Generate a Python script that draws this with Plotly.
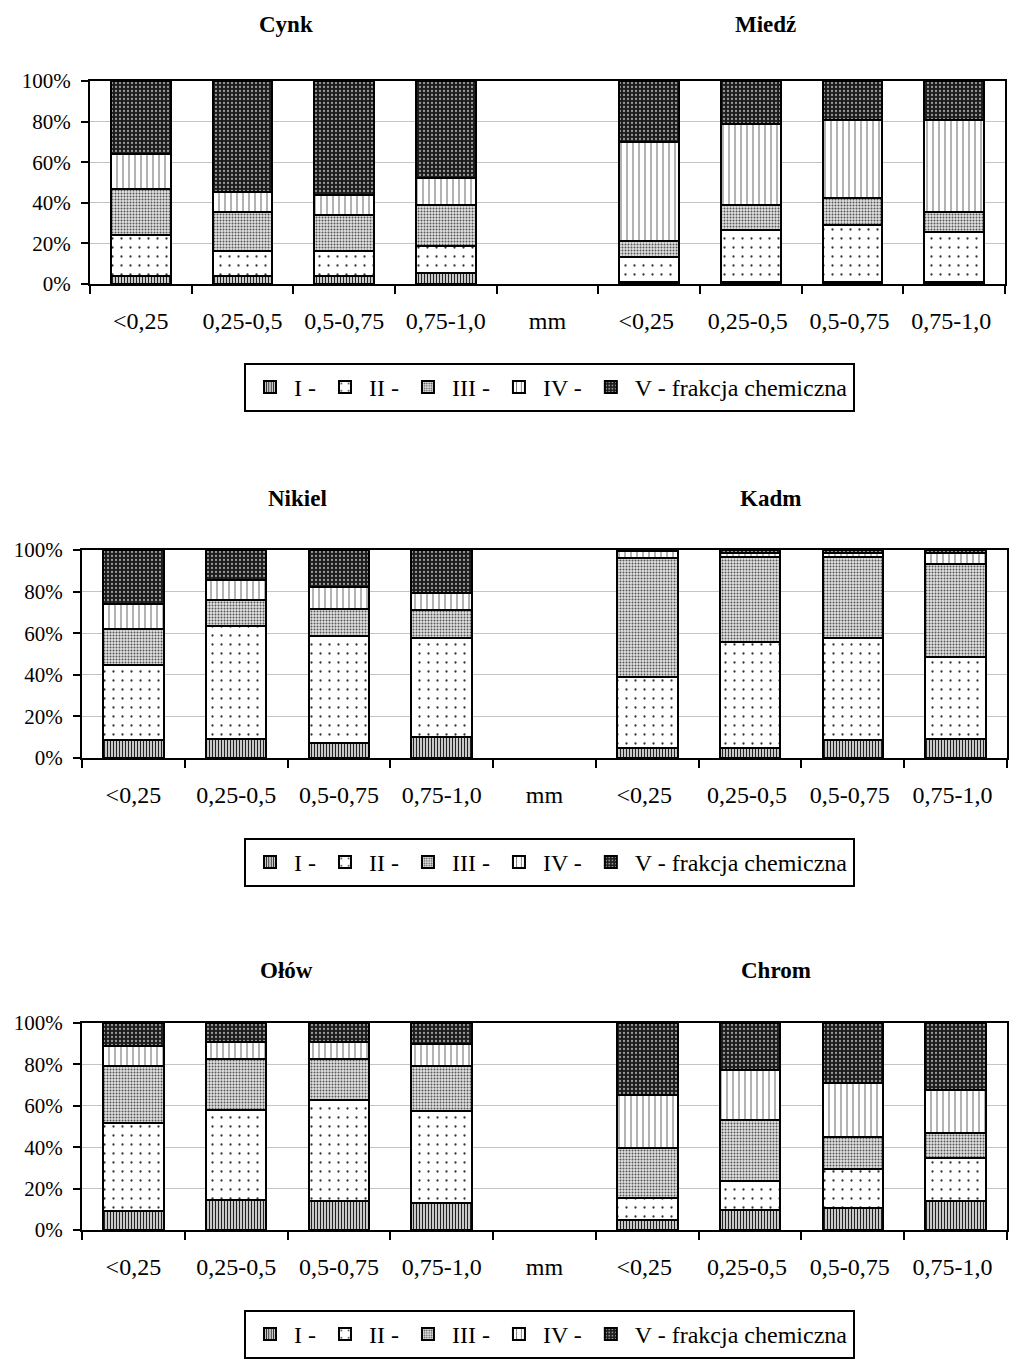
import plotly.graph_objects as go

W, H = 1024, 1372

categories = ["<0,25", "0,25-0,5", "0,5-0,75", "0,75-1,0"]
gap_label = "mm"
fractions = ["I -", "II -", "III -", "IV -", "V - frakcja chemiczna"]

# rows = fractions I..V, columns = size classes
cynk = [[4, 4, 4, 5.3], [20, 12.5, 12.5, 13.5], [23, 19, 17.5, 20.2],
        [17, 10, 9.7, 13.2], [36, 54.5, 56.3, 47.8]]
miedz = [[1, 1, 1, 1], [12.5, 25.7, 28.2, 24.5], [7.5, 12.3, 13.1, 10.2],
         [49, 40, 38.7, 45.3], [30, 21, 19, 19]]
nikiel = [[8.5, 9, 7, 10], [36, 54.5, 51.7, 47.8], [17.5, 12.3, 13.1, 13.3],
          [12, 9.8, 10.6, 8], [26, 14.4, 17.6, 20.9]]
kadm = [[5, 5, 8.5, 9], [34, 51, 49, 39.7], [57, 40.5, 39, 44.5],
        [3.5, 2, 2, 5.2], [0.5, 1.5, 1.5, 1.6]]
olow = [[9, 14.6, 13.8, 13.2], [42.8, 43.3, 48.9, 44.5], [27.6, 24.9, 20.1, 21.7],
        [9.6, 8, 8, 10.6], [11, 9.2, 9.2, 10]]
chrom = [[4.8, 9.6, 10.8, 14], [10.8, 14.2, 18.9, 20.6], [24.1, 29.3, 15, 12.5],
         [25.4, 24.1, 26.4, 20.4], [34.9, 22.8, 28.9, 32.5]]

PATTERNS = [
    dict(shape="|", bgcolor="white", fgcolor="#222", size=3, solidity=0.5, fillmode="replace"),
    dict(shape=".", bgcolor="white", fgcolor="#333", size=9, solidity=0.05, fillmode="replace"),
    dict(shape=".", bgcolor="#e2e2e2", fgcolor="#555", size=3, solidity=0.35, fillmode="replace"),
    dict(shape="|", bgcolor="white", fgcolor="#3a3a3a", size=6, solidity=0.13, fillmode="replace"),
    dict(shape=".", bgcolor="#1c1c1c", fgcolor="#9a9a9a", size=4, solidity=0.25, fillmode="replace"),
]

FONT = "Liberation Serif, Times New Roman, serif"

# panel: (left title, left data, right title, right data, x px, y px top/bottom, legend top px, title pos)
panels = [
    ("Cynk", cynk, "Miedź", miedz, (90, 1005), (81, 284), 363, (286, 24), (765, 24)),
    ("Nikiel", nikiel, "Kadm", kadm, (82, 1007), (550, 758), 838, (297, 498), (770, 498)),
    ("Ołów", olow, "Chrom", chrom, (82, 1007), (1023, 1230), 1310, (286, 970), (776, 970)),
]

left_x = categories
right_x = [c + " " for c in categories]
all_x = left_x + [gap_label] + right_x

fig = go.Figure()
annotations = []
for i, (ln, ld, rn, rd, xpx, ypx, leg_top, lt, rt) in enumerate(panels):
    n = "" if i == 0 else str(i + 1)
    xa, ya = "x" + n, "y" + n
    leg = "legend" + n
    for side, (xs, data) in enumerate([(left_x, ld), (right_x, rd)]):
        for k, name in enumerate(fractions):
            fig.add_trace(go.Bar(
                x=xs, y=data[k], name=name, xaxis=xa, yaxis=ya, legend=leg,
                showlegend=(side == 0),
                marker=dict(color="white", pattern=PATTERNS[k], line=dict(color="black", width=2)),
            ))
    fig.add_trace(go.Scatter(x=[gap_label], y=[None], xaxis=xa, yaxis=ya, showlegend=False,
                             mode="markers", hoverinfo="skip"))
    axis_common = dict(showline=True, linecolor="black", linewidth=2, mirror=True, automargin=False,
                       ticks="outside", tickcolor="black", tickwidth=2)
    fig.update_layout({
        "xaxis" + n: dict(domain=[xpx[0] / W, xpx[1] / W], anchor=ya, type="category",
                          categoryorder="array", categoryarray=all_x, range=[-0.5, 8.5],
                          tickson="boundaries", ticklen=8, showgrid=False, ticklabelstandoff=14,
                          tickfont=dict(family=FONT, size=24, color="black"), **axis_common),
        "yaxis" + n: dict(domain=[1 - ypx[1] / H, 1 - ypx[0] / H], anchor=xa, range=[0, 100],
                          dtick=20, ticksuffix="%", ticklen=7, showgrid=True, gridcolor="#c4c4c4",
                          gridwidth=1, ticklabelstandoff=6,
                          tickfont=dict(family=FONT, size=21, color="black"), **axis_common),
        leg: dict(orientation="h", x=549.5 / W, xanchor="center", y=1 - leg_top / H, yanchor="top",
                  bordercolor="black", borderwidth=2, bgcolor="white",
                  font=dict(family=FONT, size=24, color="black"), itemwidth=38,
                  traceorder="normal"),
    })
    for txt, (px, py) in [(ln, lt), (rn, rt)]:
        annotations.append(dict(text=f"<b>{txt}</b>", x=px / W, y=1 - py / H, xref="paper", yref="paper",
                                xanchor="center", yanchor="middle", showarrow=False,
                                font=dict(family=FONT, size=23, color="black")))

fig.update_layout(width=W, height=H, margin=dict(l=0, r=0, t=0, b=0, autoexpand=False),
                  barmode="stack", bargap=0.41, plot_bgcolor="white", paper_bgcolor="white",
                  annotations=annotations)
fig.write_html("out.html", config={"displayModeBar": False},
               post_script="document.body.style.margin='0';document.body.style.overflow='hidden';")
